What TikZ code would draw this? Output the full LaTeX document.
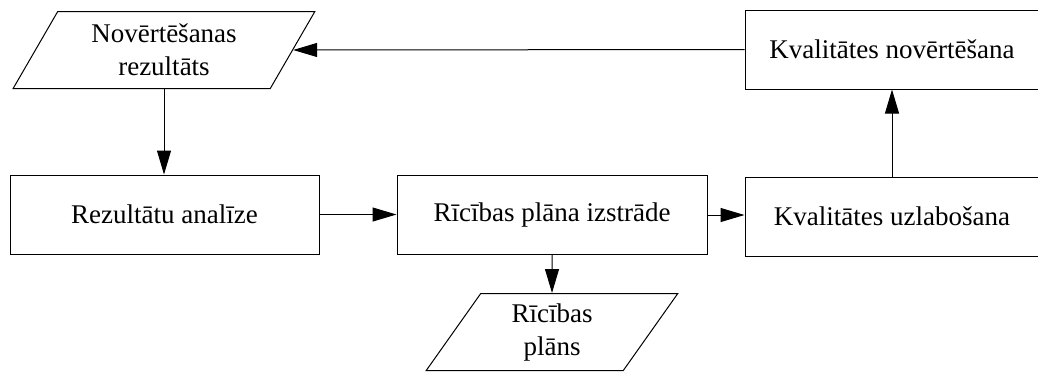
\documentclass[tikz,border=0pt]{standalone}
\usepackage{fontspec}
\setmainfont{Liberation Serif}
\usepackage{tikz}
\usetikzlibrary{shapes.geometric, arrows.meta}

\begin{document}
\begin{tikzpicture}[x=0.5pt, y=-0.5pt,
    font=\fontsize{13.5}{16.5}\selectfont,
    procbox/.style={draw, line width=0.5pt, align=center, minimum height=39.5pt},
    databox/.style={draw, line width=0.5pt, align=center, trapezium, trapezium left angle=63,
        trapezium right angle=117, trapezium stretches=true, minimum height=38.5pt},
    flow/.style={-{Triangle[length=12pt, width=7pt]}, line width=0.5pt}]
    \useasboundingbox (0,0) rectangle (1038,372);

    % Data (parallelograms)
    \node[databox, minimum width=151pt] (result) at (164,50) {Novērtēšanas\\rezultāts};
    \node[databox, minimum width=126pt] (planout) at (552,332) {Rīcības\\plāns};

    % Process boxes
    \node[procbox, minimum width=154.5pt] (analysis) at (164.5,214.5) {Rezultātu analīze};
    \node[procbox, minimum width=155pt] (planning) at (552,215) {Rīcības plāna izstrāde};
    \node[procbox, minimum width=147pt] (improve) at (892,216.5) {Kvalitātes uzlabošana};
    \node[procbox, minimum width=147pt] (assess) at (892,49.5) {Kvalitātes novērtēšana};

    % Arrows
    \draw[flow] (result.south) -- (result.south |- analysis.north);
    \draw[flow] (analysis.east) -- (analysis.east -| planning.west);
    \draw[flow] (planning.east) -- (planning.east -| improve.west);
    \draw[flow] (planning.south) -- (planout.north);
    \draw[flow] (improve.north) -- (assess.south);
    \draw[flow] (assess.west) -- (result.east);
\end{tikzpicture}
\end{document}
